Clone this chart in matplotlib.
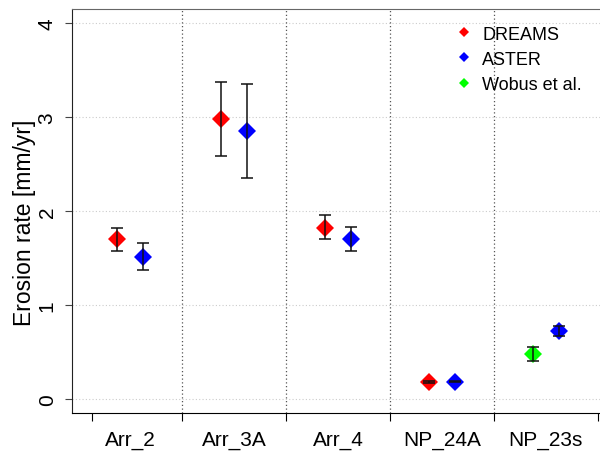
import numpy as np
import matplotlib
matplotlib.use("Agg")
import matplotlib.pyplot as plt

plt.rcParams['font.family'] = ['Liberation Sans', 'DejaVu Sans']

sites = ["Arr_2", "Arr_3A", "Arr_4", "NP_24A", "NP_23s"]

# DREAMS (first four sites)
dreams_val = [1.70, 2.98, 1.82, 0.18]
dreams_lo = [1.57, 2.59, 1.70, 0.17]
dreams_hi = [1.82, 3.37, 1.955, 0.19]

# ASTER (all five sites)
aster_val = [1.51, 2.85, 1.70, 0.185, 0.72]
aster_lo = [1.375, 2.35, 1.57, 0.175, 0.665]
aster_hi = [1.66, 3.35, 1.83, 0.195, 0.78]

# Wobus et al. (NP_23s only)
wobus_val = [0.48]
wobus_lo = [0.40]
wobus_hi = [0.555]

fig = plt.figure(figsize=(6, 4.56), dpi=100)
ax = fig.add_axes([0.12, 0.0921, 0.88, 0.886])

x = np.arange(len(sites))
off = 0.125


def plot_series(xs, val, lo, hi, color, label):
    val = np.array(val)
    err = [val - np.array(lo), np.array(hi) - val]
    ax.plot(xs, val, 'D', color=color, markersize=9.5, markeredgewidth=0,
            linestyle='none', zorder=3)
    ax.errorbar(xs, val, yerr=err, fmt='none', ecolor='#111111',
                elinewidth=1.1, capsize=4, capthick=1.1, zorder=4)
    ax.plot([], [], 'D', color=color, markersize=5, markeredgewidth=0,
            linestyle='none', label=label)


plot_series(x[:4] - off, dreams_val, dreams_lo, dreams_hi, '#ff0000', 'DREAMS')
plot_series(x + off, aster_val, aster_lo, aster_hi, '#0000ff', 'ASTER')
plot_series(x[4:] - off, wobus_val, wobus_lo, wobus_hi, '#00ff00', 'Wobus et al.')

# separators between sites
for b in x[:-1] + 0.5:
    ax.axvline(b, color='#555555', linestyle=(0, (1, 2)), linewidth=0.9, zorder=1)

ax.set_xlim(-0.558, 4.52)
ax.set_ylim(-0.15, 4.15)

ax.set_yticks([0, 1, 2, 3, 4])
ax.set_yticklabels(['0', '1', '2', '3', '4'], rotation=90, va='center', fontsize=15)
ax.yaxis.grid(True, color='#cccccc', linestyle=(0, (1, 2)), linewidth=0.8)
ax.set_axisbelow(True)

ax.set_xticks([-0.365, 0.5, 1.5, 2.5, 3.5, 4.5])
ax.set_xticklabels([])
ax.set_xticks(x, minor=True)
ax.set_xticklabels(sites, minor=True, fontsize=15)
ax.tick_params(axis='x', which='minor', length=0, pad=12)
ax.tick_params(axis='x', which='major', length=6, direction='out', color='black')
ax.tick_params(axis='y', length=5, direction='out', color='#444444', pad=6)

ax.set_ylabel('Erosion rate [mm/yr]', fontsize=16.5)
ax.yaxis.set_label_coords(-0.068, 0.473)

ax.spines['right'].set_visible(False)
ax.spines['top'].set_color('#666666')
ax.spines['left'].set_color('#222222')
ax.spines['bottom'].set_color('black')

ax.legend(loc='upper right', frameon=False, fontsize=13, handletextpad=0.5,
          labelspacing=0.45, bbox_to_anchor=(0.99, 0.99), borderaxespad=0.3,
          handlelength=1.0)

fig.savefig('out.png', dpi=100)
